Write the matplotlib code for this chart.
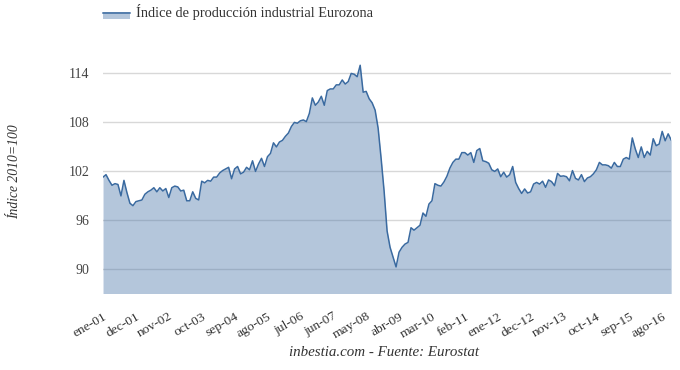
import numpy as np
import matplotlib
matplotlib.use("Agg")
import matplotlib.pyplot as plt
from matplotlib.patches import Rectangle
from matplotlib.lines import Line2D

plt.rcParams['font.family'] = ['Liberation Serif', 'DejaVu Serif']

# Indice de produccion industrial Eurozona (2010=100), mensual desde ene-2001
ipi = [
    101.2, 101.5, 100.8, 100.2, 100.4, 100.3, 98.9, 100.8, 99.3, 98.0, 97.7, 98.2,
    98.3, 98.4, 99.1, 99.4, 99.6, 99.9, 99.4, 99.9, 99.5, 99.8, 98.7, 99.9,
    100.1, 100.0, 99.5, 99.6, 98.3, 98.3, 99.4, 98.6, 98.4, 100.7, 100.5, 100.8,
    100.7, 101.2, 101.2, 101.7, 102.0, 102.2, 102.4, 101.0, 102.2, 102.5, 101.6, 101.8,
    102.4, 102.1, 103.2, 101.9, 102.8, 103.5, 102.5, 103.7, 104.1, 105.4, 104.9, 105.5,
    105.7, 106.2, 106.6, 107.4, 107.9, 107.8, 108.1, 108.2, 108.0, 109.0, 110.9, 110.0,
    110.4, 111.1, 110.0, 111.8, 112.0, 112.0, 112.5, 112.5, 113.1, 112.6, 112.9, 113.9,
    113.8, 113.5, 114.9, 111.6, 111.7, 110.8, 110.3, 109.4, 107.2, 103.5, 99.5, 94.6,
    92.6, 91.4, 90.2, 92.0, 92.6, 93.0, 93.2, 95.0, 94.7, 95.0, 95.3, 96.8,
    96.4, 97.9, 98.3, 100.4, 100.2, 100.1, 100.6, 101.3, 102.3, 103.0, 103.4, 103.4,
    104.2, 104.2, 103.9, 104.2, 103.0, 104.45, 104.7, 103.2, 103.1, 102.9, 102.1, 101.9,
    102.2, 101.25, 101.8, 101.2, 101.5, 102.5, 100.55, 99.8, 99.2, 99.75, 99.25, 99.4,
    100.35, 100.55, 100.35, 100.7, 99.95, 100.85, 100.65, 100.15, 101.65, 101.3, 101.35, 101.25,
    100.75, 102.0, 101.05, 100.85, 101.5, 100.65, 101.1, 101.25, 101.6, 102.1, 103.0, 102.7,
    102.7, 102.6, 102.3, 103.0, 102.5, 102.5, 103.4, 103.6, 103.4, 106.0, 104.65, 103.6,
    104.9, 103.6, 104.35, 103.9, 105.9, 105.05, 105.25, 106.8, 105.65, 106.5, 105.75,
]

meses = ['ene', 'feb', 'mar', 'abr', 'may', 'jun', 'jul', 'ago', 'sep', 'oct', 'nov', 'dec']
etiquetas = [f"{meses[i % 12]}-{(1 + i // 12):02d}" for i in range(len(ipi))]
ticks_x = list(range(0, len(ipi), 11))
ticks_y = [90, 96, 102, 108, 114]

fig = plt.figure(figsize=(6.8, 3.7), dpi=100)
ax = fig.add_axes([0.1515, 0.208, 0.8355, 0.684])

x = np.arange(len(ipi))
ax.fill_between(x, ipi, 80, color='#4572a7', alpha=0.4, lw=0)
ax.plot(x, ipi, color='#3a6aa0', lw=1.1)

ax.set_xlim(0, len(ipi) - 1)
ax.set_ylim(87, 118)
ax.set_yticks(ticks_y)
ax.set_yticklabels([str(v) for v in ticks_y], fontsize=10, color='#444444')
ax.set_xticks(ticks_x)
ax.set_xticklabels([etiquetas[i] for i in ticks_x], rotation=30, ha='right',
                   rotation_mode='anchor', fontsize=9.7, color='#333333')
ax.tick_params(axis='y', length=0, pad=10)
ax.tick_params(axis='x', length=0, pad=12.5)
ax.yaxis.grid(True, color='#d8d8d8', lw=1)
ax.set_axisbelow(True)
for s in ax.spines.values():
    s.set_visible(False)

# leyenda
fig.add_artist(Rectangle((103 / 680, 1 - 18.5 / 370), 27 / 680, 6 / 370,
                         transform=fig.transFigure, color='#4572a7', alpha=0.4, lw=0))
fig.add_artist(Line2D([103 / 680, 130 / 680], [1 - 12.5 / 370] * 2,
                      transform=fig.transFigure, color='#3a6aa0', lw=1.1))
fig.text(136 / 680, 1 - 12 / 370, 'Índice de producción industrial Eurozona',
         va='center', ha='left', fontsize=10.4, color='#333333')

fig.text(0.022, 0.535, 'Índice 2010=100', rotation=90, style='italic',
         va='center', ha='center', fontsize=9.8, color='#333333')
fig.text(0.564, 0.046, 'inbestia.com - Fuente: Eurostat', style='italic',
         va='center', ha='center', fontsize=10.8, color='#333333')

fig.savefig('out.png', dpi=100)
